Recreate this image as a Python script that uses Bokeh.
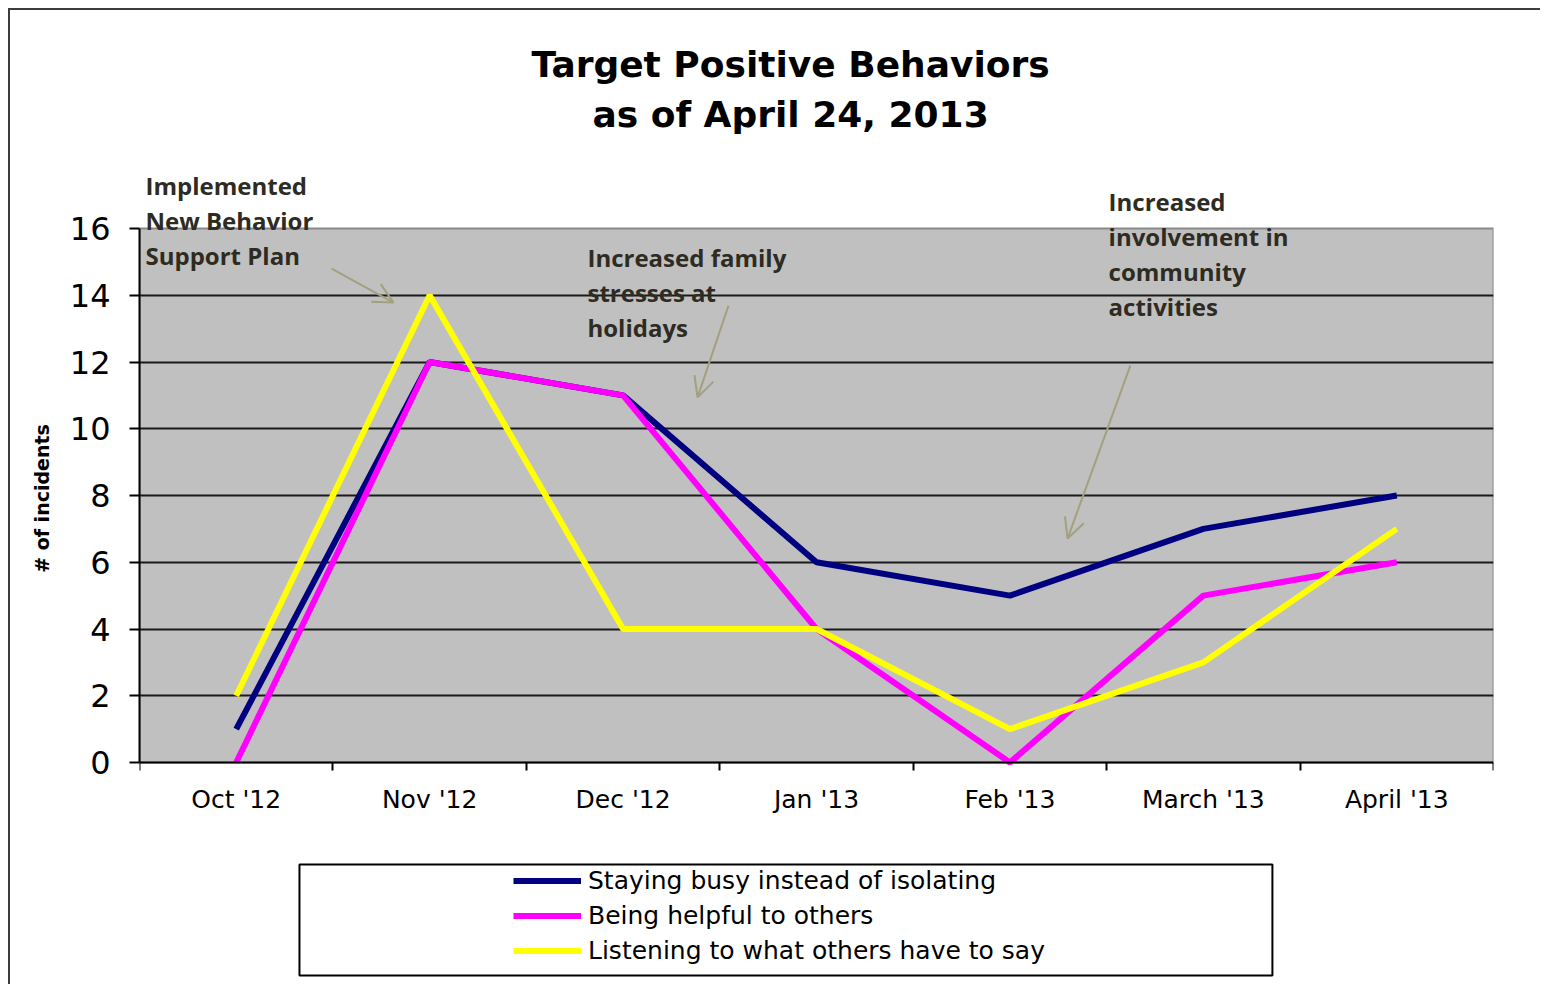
from bokeh.plotting import figure
from bokeh.models import (Range1d, FixedTicker, Legend, LegendItem, Label,
                          Arrow, OpenHead, BoxAnnotation)
from bokeh.embed import file_html
from bokeh.resources import INLINE

# ---------------- data ----------------
months = ["Oct '12", "Nov '12", "Dec '12", "Jan '13", "Feb '13", "March '13", "April '13"]
staying_busy = [1, 12, 11, 6, 5, 7, 8]
being_helpful = [0, 12, 11, 4, 0, 5, 6]
listening = [2, 14, 4, 4, 1, 3, 7]
series_names = ["Staying busy instead of isolating",
                "Being helpful to others",
                "Listening to what others have to say"]
series_colors = ["#000080", "#FF00FF", "#FFFF00"]
y_ticks = [0, 2, 4, 6, 8, 10, 12, 14, 16]

title_lines = ["Target Positive Behaviors", "as of April 24, 2013"]
note_1 = ["Implemented", "New Behavior", "Support Plan"]
note_2 = ["Increased family", "stresses at", "holidays"]
note_3 = ["Increased", "involvement in", "community", "activities"]

# ---------------- layout constants ----------------
W, H = 1532, 976
Y_MAX = 16
PLOT_TOP_PX, PLOT_BOTTOM_PX = 218, 752      # gray plot area inside the canvas
px_per_unit = (PLOT_BOTTOM_PX - PLOT_TOP_PX) / Y_MAX
y_low = -(H - PLOT_BOTTOM_PX) / px_per_unit
y_high = PLOT_BOTTOM_PX / px_per_unit

n = len(months)
x_pos = [i + 0.5 for i in range(n)]
x_bounds = list(range(n + 1))

p = figure(width=W, height=H,
           x_range=Range1d(0, n), y_range=Range1d(y_low, y_high),
           output_backend="svg", toolbar_location=None,
           min_border_left=129, min_border_right=49,
           min_border_top=0, min_border_bottom=0,
           background_fill_color="white", border_fill_color="white",
           outline_line_color=None)
p.styles = {"margin-left": "8px", "margin-top": "8px",
            "border-left": "2px solid #3c3c3c", "border-top": "2px solid #3c3c3c"}

# gray plot area
p.add_layout(BoxAnnotation(left=0, right=n, bottom=0, top=Y_MAX, level="image",
                           fill_color="#C0C0C0", fill_alpha=1,
                           line_color="#8a8a8a", line_alpha=1, line_width=2))

# grid
p.xgrid.visible = False
p.ygrid.ticker = FixedTicker(ticks=y_ticks[1:-1])
p.ygrid.grid_line_color = "#1a1a1a"
p.ygrid.grid_line_width = 2

# y axis
p.yaxis.ticker = FixedTicker(ticks=y_ticks)
p.yaxis.bounds = (0, Y_MAX)
p.yaxis.axis_line_color = "black"
p.yaxis.axis_line_width = 2
p.yaxis.major_tick_line_color = "black"
p.yaxis.major_tick_line_width = 2
p.yaxis.major_tick_out = 10
p.yaxis.major_tick_in = 0
p.yaxis.minor_tick_line_color = None
p.yaxis.major_label_text_font = "DejaVu Sans"
p.yaxis.major_label_text_font_size = "32px"
p.yaxis.major_label_text_color = "black"
p.yaxis.major_label_standoff = 19
p.yaxis.axis_label = "# of incidents"
p.yaxis.axis_label_text_font = "DejaVu Sans"
p.yaxis.axis_label_text_font_style = "bold"
p.yaxis.axis_label_text_font_size = "19px"
p.yaxis.axis_label_text_color = "black"
p.yaxis.axis_label_standoff = 14

# x axis (drawn at y = 0)
p.xaxis.fixed_location = 0
p.xaxis.bounds = (0, n)
p.xaxis.ticker = FixedTicker(ticks=x_pos, minor_ticks=x_bounds)
p.xaxis.major_label_overrides = {x: m for x, m in zip(x_pos, months)}
p.xaxis.axis_line_color = "black"
p.xaxis.axis_line_width = 2
p.xaxis.major_tick_out = 0
p.xaxis.major_tick_in = 0
p.xaxis.major_tick_line_color = None
p.xaxis.minor_tick_out = 8
p.xaxis.minor_tick_in = 0
p.xaxis.minor_tick_line_color = "black"
p.xaxis.minor_tick_line_width = 2
p.xaxis.major_label_text_font = "DejaVu Sans"
p.xaxis.major_label_text_font_size = "25px"
p.xaxis.major_label_text_color = "black"
p.xaxis.major_label_standoff = 14

# series
renderers = []
for vals, col in zip([staying_busy, being_helpful, listening], series_colors):
    renderers.append(p.line(x_pos, vals, line_color=col, line_width=6))

# legend
legend = Legend(items=[LegendItem(label=nm, renderers=[r]) for nm, r in zip(series_names, renderers)],
                location=(374, 18.5), orientation="vertical",
                padding=0, spacing=0, margin=0,
                glyph_width=68, glyph_height=35, label_height=35, label_standoff=7,
                label_text_font="DejaVu Sans", label_text_font_size="25px",
                label_text_color="black",
                border_line_alpha=0, background_fill_alpha=0)
p.add_layout(legend)
p.add_layout(BoxAnnotation(left=0.827, right=5.857, top=-3.056, bottom=-6.382,
                           fill_alpha=0, line_color="black", line_alpha=1, line_width=2))

# title
for txt, yy in zip(title_lines, [20.91, 19.42]):
    p.add_layout(Label(x=3.366, y=yy, text=txt, text_align="center",
                       text_baseline="alphabetic", text_font="DejaVu Sans",
                       text_font_style="bold", text_font_size="36px",
                       text_color="black"))

# annotations
note_color = "#2e2b22"
for lines, x0, y0 in [(note_1, 0.031, 17.30), (note_2, 2.316, 15.12), (note_3, 5.010, 16.80)]:
    for k, txt in enumerate(lines):
        p.add_layout(Label(x=x0, y=y0 - k * 1.0487, text=txt, text_align="left",
                           text_baseline="alphabetic", text_font="Open Sans",
                           text_font_style="bold", text_font_size="24px",
                           text_color=note_color))

arrow_color = "#a3a07e"
for xs, ys, xe, ye in [(0.993, 14.80, 1.313, 13.78),
                       (3.045, 13.69, 2.885, 10.94),
                       (5.123, 11.90, 4.798, 6.71)]:
    p.add_layout(Arrow(x_start=xs, y_start=ys, x_end=xe, y_end=ye,
                       line_color=arrow_color, line_width=2,
                       end=OpenHead(size=20, line_color=arrow_color, line_width=2)))

open("out.html", "w").write(file_html(p, INLINE))
